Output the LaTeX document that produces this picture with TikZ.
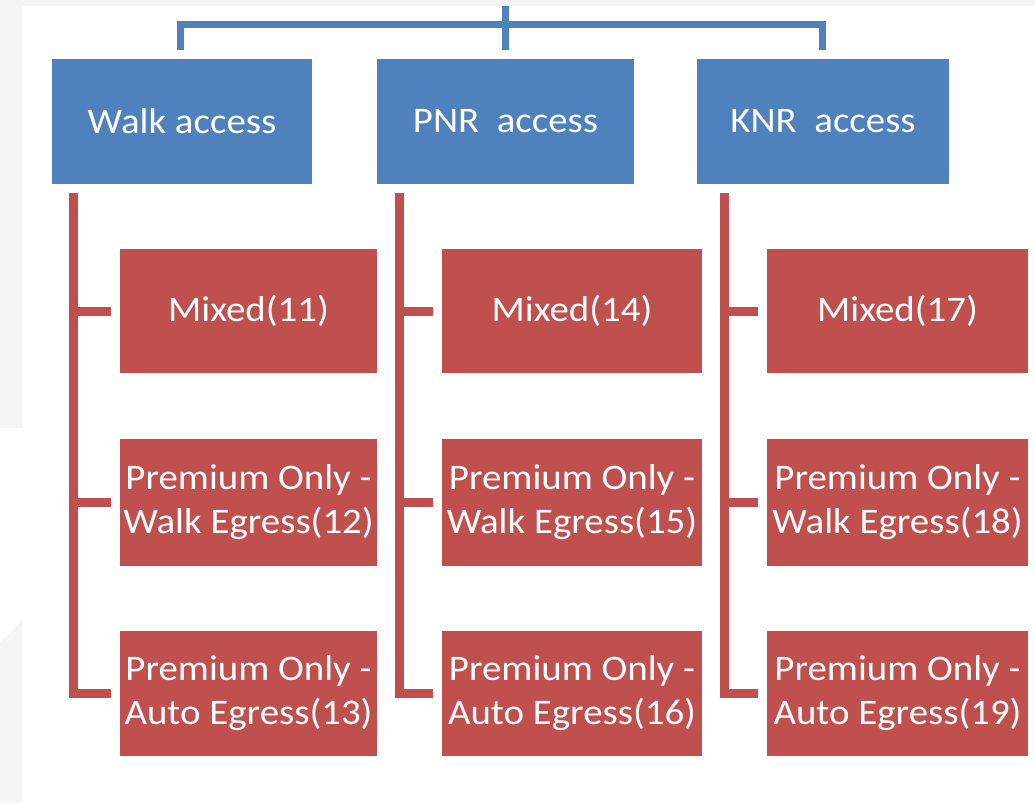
\documentclass[tikz,border=0pt]{standalone}
\usepackage{fontspec}
\setmainfont{Carlito}[FakeStretch=1.08]
\usetikzlibrary{calc}
\definecolor{accblue}{HTML}{4F81BD}
\definecolor{accred}{HTML}{C0504D}
\definecolor{bggray}{HTML}{F5F5F5}
\begin{document}
\begin{tikzpicture}[x=1pt,y=-1pt,
  bluebox/.style={fill=accblue,draw=none,text=white,minimum width=#1,minimum height=125,inner sep=0pt,align=center,font=\fontsize{36}{44}\selectfont},
  redbox/.style={fill=accred,draw=none,text=white,minimum width=#1,inner sep=0pt,align=center,font=\fontsize{36}{44}\selectfont},
  blueline/.style={draw=accblue,line width=7pt},
  redline/.style={draw=accred,line width=9pt}]
\useasboundingbox (0,0) rectangle (1035,803);
% background frame
\fill[bggray] (0,0) rectangle (1035,6);
\fill[bggray] (0,0) rectangle (22,428);
\fill[bggray] (0,643) -- (22,620) -- (22,803) -- (0,803) -- cycle;
% blue boxes
\node[bluebox=260] (b1) at (182,121.5) {Walk access};
\node[bluebox=257] (b2) at (505.5,121.5) {PNR~~access};
\node[bluebox=252] (b3) at (823,121.5) {KNR~~access};
% red boxes
\node[redbox=257,minimum height=124] (r11) at (248.5,311) {Mixed(11)};
\node[redbox=257,minimum height=127] (r12) at (248.5,502.5) {Premium Only -\\Walk Egress(12)};
\node[redbox=257,minimum height=125] (r13) at (248.5,693.5) {Premium Only -\\Auto Egress(13)};
\node[redbox=260,minimum height=124] (r14) at (572,311) {Mixed(14)};
\node[redbox=260,minimum height=127] (r15) at (572,502.5) {Premium Only -\\Walk Egress(15)};
\node[redbox=260,minimum height=125] (r16) at (572,693.5) {Premium Only -\\Auto Egress(16)};
\node[redbox=261,minimum height=124] (r17) at (897.5,311) {Mixed(17)};
\node[redbox=261,minimum height=127] (r18) at (897.5,502.5) {Premium Only -\\Walk Egress(18)};
\node[redbox=261,minimum height=125] (r19) at (897.5,693.5) {Premium Only -\\Auto Egress(19)};
% top connector
\coordinate (hub) at (505,6);
\coordinate (bar) at (505,24);
\draw[blueline] (hub) -- ($(b2.north)+(-0.5,-9)$);
\draw[blueline] ($(b1.north)+(-2,-9)$) |- (bar) -| ($(b3.north)+(-1,-9)$);
% red connectors
\coordinate (v1) at (73.5,193);
\coordinate (v2) at (399.5,193);
\coordinate (v3) at (724.5,193);
\draw[redline] (v1) |- ($(r13.west)+(-9,0)$);
\draw[redline] (v1 |- r11.west) -- ($(r11.west)+(-9,0)$);
\draw[redline] (v1 |- r12.west) -- ($(r12.west)+(-9,0)$);
\draw[redline] (v2) |- ($(r16.west)+(-9,0)$);
\draw[redline] (v2 |- r14.west) -- ($(r14.west)+(-9,0)$);
\draw[redline] (v2 |- r15.west) -- ($(r15.west)+(-9,0)$);
\draw[redline] (v3) |- ($(r19.west)+(-9,0)$);
\draw[redline] (v3 |- r17.west) -- ($(r17.west)+(-9,0)$);
\draw[redline] (v3 |- r18.west) -- ($(r18.west)+(-9,0)$);
\end{tikzpicture}
\end{document}
